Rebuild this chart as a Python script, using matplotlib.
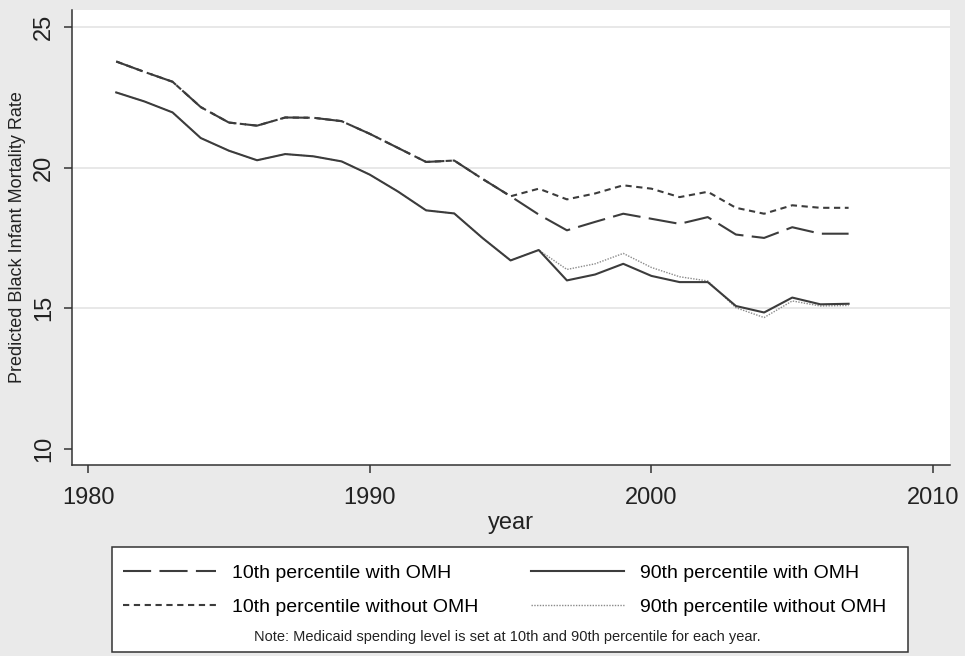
import numpy as np
import matplotlib as mpl
mpl.use('Agg')
import matplotlib.pyplot as plt
from matplotlib.patches import Rectangle

mpl.rcParams['font.family'] = ['Liberation Sans', 'DejaVu Sans']

years = list(range(1981, 2008))
p10_omh = [23.77, 23.40, 23.05, 22.15, 21.60, 21.49, 21.78, 21.77, 21.65, 21.20,
           20.70, 20.20, 20.25, 19.60, 18.98, 18.33, 17.77, 18.07, 18.36, 18.18,
           18.00, 18.24, 17.62, 17.50, 17.88, 17.65, 17.65]
p10_no = [23.77, 23.40, 23.05, 22.15, 21.60, 21.49, 21.78, 21.77, 21.65, 21.20,
          20.70, 20.20, 20.25, 19.60, 18.98, 19.25, 18.87, 19.08, 19.37, 19.25,
          18.95, 19.14, 18.57, 18.36, 18.66, 18.57, 18.57]
p90_omh = [22.67, 22.35, 21.96, 21.05, 20.60, 20.26, 20.48, 20.40, 20.22, 19.75,
           19.15, 18.48, 18.37, 17.50, 16.70, 17.07, 15.99, 16.20, 16.58, 16.15,
           15.93, 15.93, 15.08, 14.85, 15.38, 15.14, 15.16]
p90_no = [22.67, 22.35, 21.96, 21.05, 20.60, 20.26, 20.48, 20.40, 20.22, 19.75,
          19.15, 18.48, 18.37, 17.50, 16.70, 17.07, 16.38, 16.58, 16.95, 16.45,
          16.12, 15.97, 15.02, 14.67, 15.26, 15.08, 15.10]
xticks = [1980, 1990, 2000, 2010]
yticks = [10, 15, 20, 25]

bg = '#eaeaea'
ink = '#3c3c3c'

fig = plt.figure(figsize=(9.65, 6.56), dpi=100, facecolor=bg)
ax = fig.add_axes([72/965, 1-465/656, 878/965, 455/656])
ax.set_facecolor('white')

l10n, = ax.plot(years, p10_no, color=ink, lw=1.5, linestyle=(0, (3.0, 2.2)))
l90n, = ax.plot(years, p90_no, color='#8a8a8a', lw=1.0, linestyle=(0, (1, 1)))
l10, = ax.plot(years, p10_omh, color=ink, lw=1.5, linestyle=(0, (13.5, 4.0)))
l90, = ax.plot(years, p90_omh, color=ink, lw=1.5)

ax.set_xlim(1979.43, 2010.6)
ax.set_ylim(9.43, 25.6)
ax.set_xticks(xticks)
ax.set_yticks(yticks)
ax.tick_params(axis='both', direction='out', length=6, width=1.1, color='#333333',
               labelsize=17, labelcolor='#222222')
ax.tick_params(axis='x', pad=10)
ax.tick_params(axis='y', pad=6, labelrotation=90)
for t in ax.get_yticklabels():
    t.set_va('center')

ax.grid(axis='y', color='#e6e6e6', lw=1.3)
ax.get_ygridlines()[0].set_visible(False)
ax.set_axisbelow(True)

for s in ['top', 'right']:
    ax.spines[s].set_visible(False)
for s in ['left', 'bottom']:
    ax.spines[s].set_color('#333333')
    ax.spines[s].set_linewidth(1.1)

ax.set_xlabel('year', fontsize=17, color='#222222', va='center')
ax.xaxis.set_label_coords(0.5, (465-523)/455)
ax.set_ylabel('Predicted Black Infant Mortality Rate', fontsize=13, color='#222222', va='center')
ax.yaxis.set_label_coords((18-72)/878, 0.5)

# legend box
fig.patches.append(Rectangle((112/965, 1-652/656), 796/965, 105/656, transform=fig.transFigure,
                             facecolor='white', edgecolor='#333333', lw=1.1))
fig.legend([l10, l10n, l90, l90n],
           ['10th percentile with OMH', '10th percentile without OMH',
            '90th percentile with OMH', '90th percentile without OMH'],
           ncol=2, loc='upper left', bbox_to_anchor=(123/965, 1-564/656),
           frameon=False, fontsize=14, handlelength=4.8, handletextpad=0.8,
           columnspacing=2.7, labelspacing=0.85, borderpad=0, borderaxespad=0)
fig.text(507/965, 1-637/656,
         'Note: Medicaid spending level is set at 10th and 90th percentile for each year.',
         fontsize=10.5, ha='center', va='center', color='#222222')

fig.savefig('out.png', dpi=100, facecolor=bg)
